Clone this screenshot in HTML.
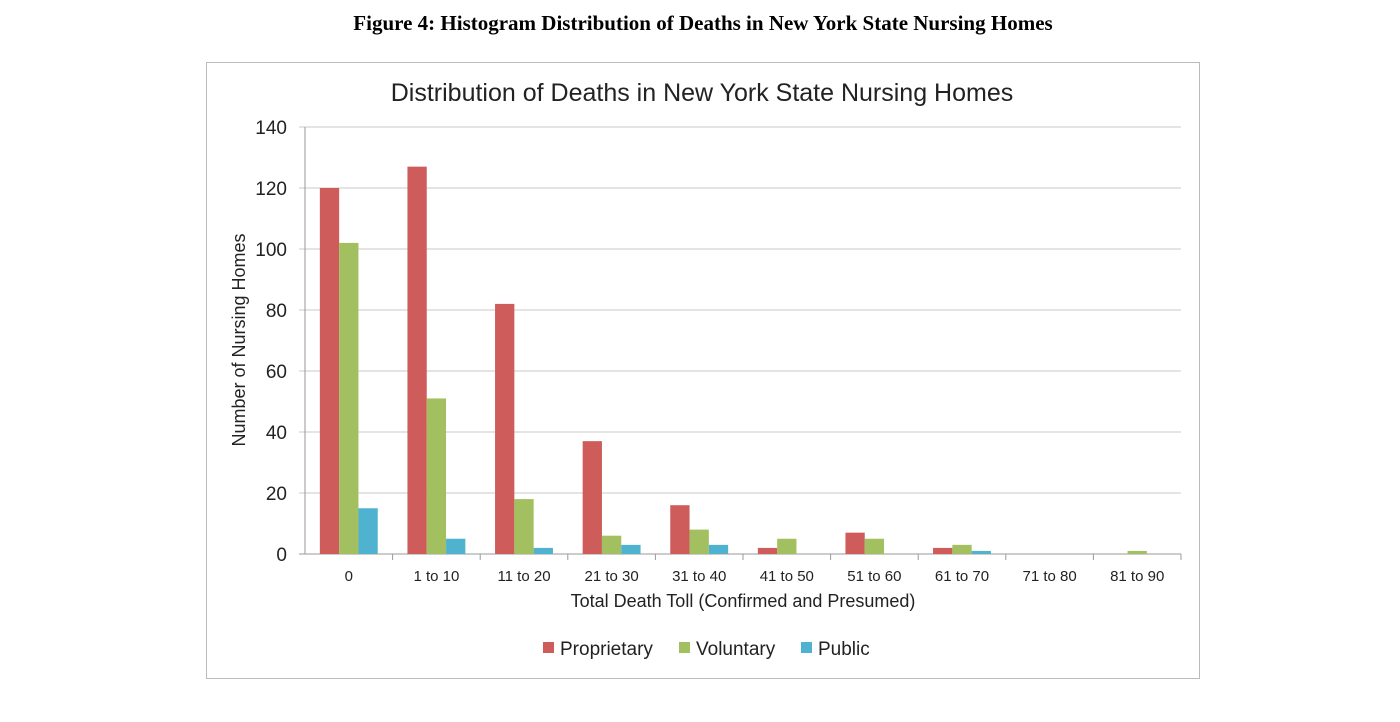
<!DOCTYPE html>
<html><head><meta charset="utf-8"><style>
body{margin:0;background:#fff;width:1400px;height:717px;overflow:hidden;font-family:"Liberation Sans",sans-serif}
</style></head><body>
<svg width="1400" height="717">
<text x="703" y="30" text-anchor="middle" font-family="Liberation Serif" font-weight="bold" font-size="21">Figure 4: Histogram Distribution of Deaths in New York State Nursing Homes</text>
<rect x="206.5" y="62.5" width="993" height="616" fill="#fff" stroke="#bbb"/>
<text x="702" y="101" text-anchor="middle" font-size="25" fill="#222">Distribution of Deaths in New York State Nursing Homes</text>
<g id="grid"></g><g id="bars"></g><g id="axes"></g>
<text transform="translate(245,340) rotate(-90)" text-anchor="middle" font-size="18" fill="#222">Number of Nursing Homes</text>
<text x="743" y="607" text-anchor="middle" font-size="18" fill="#222">Total Death Toll (Confirmed and Presumed)</text>
<g font-size="19" fill="#222">
<rect x="543" y="642" width="11" height="11" fill="#cd5c5a"/>
<text x="560" y="655">Proprietary</text>
<rect x="679" y="642" width="11" height="11" fill="#a2c05f"/>
<text x="696" y="655">Voluntary</text>
<rect x="801" y="642" width="11" height="11" fill="#4fb3cf"/>
<text x="818" y="655">Public</text>
</g>
</svg>
<script>
const categories=["0","1 to 10","11 to 20","21 to 30","31 to 40","41 to 50","51 to 60","61 to 70","71 to 80","81 to 90"];
const proprietary=[120,127,82,37,16,2,7,2,0,0];
const voluntary=[102,51,18,6,8,5,5,3,0,1];
const publicHomes=[15,5,2,3,3,0,0,1,0,0];
const yTicks=[0,20,40,60,80,100,120,140];
const NS="http://www.w3.org/2000/svg";
const X0=305,X1=1181,Y0=554,Y1=127,YMAX=140;
const step=(X1-X0)/categories.length;
const y=v=>Y0-(Y0-Y1)*v/YMAX;
const xc=i=>X0+step*(i+0.5);
function mk(tag,attrs,parent){const e=document.createElementNS(NS,tag);for(const k in attrs)e.setAttribute(k,attrs[k]);document.getElementById(parent).appendChild(e);return e;}
yTicks.forEach(t=>{
  const l=mk('line',{x1:X0-6,x2:X1,y1:y(t),y2:y(t),stroke:t===0?'#999':'#c8c8c8','stroke-width':1},'grid');
  
  
  const tx=mk('text',{x:X0-18,y:y(t)+7,'text-anchor':'end','font-size':19,fill:'#222'},'axes');
  tx.textContent=t;
  
  
});
const ax=mk('line',{x1:X0,x2:X0,y1:Y1,y2:Y0,stroke:'#999'},'axes');


const series=[[proprietary,'#cd5c5a','proprietary'],[voluntary,'#a2c05f','voluntary'],[publicHomes,'#4fb3cf','public']];
const bw=19.3;
categories.forEach((c,i)=>{
  const tk=mk('line',{x1:X0+step*(i+1),x2:X0+step*(i+1),y1:Y0,y2:Y0+6,stroke:'#999'},'axes');
  
  
  const lb=mk('text',{x:xc(i),y:Y0+27,'text-anchor':'middle','font-size':15,fill:'#222'},'axes');
  lb.textContent=c;
  
  
  series.forEach((s,j)=>{
    const v=s[0][i];
    const r=mk('rect',{x:xc(i)-1.5*bw+j*bw,y:y(v),width:bw,height:Y0-y(v),fill:s[1]},'bars');
    
    
  });
});
</script>
</body></html>
